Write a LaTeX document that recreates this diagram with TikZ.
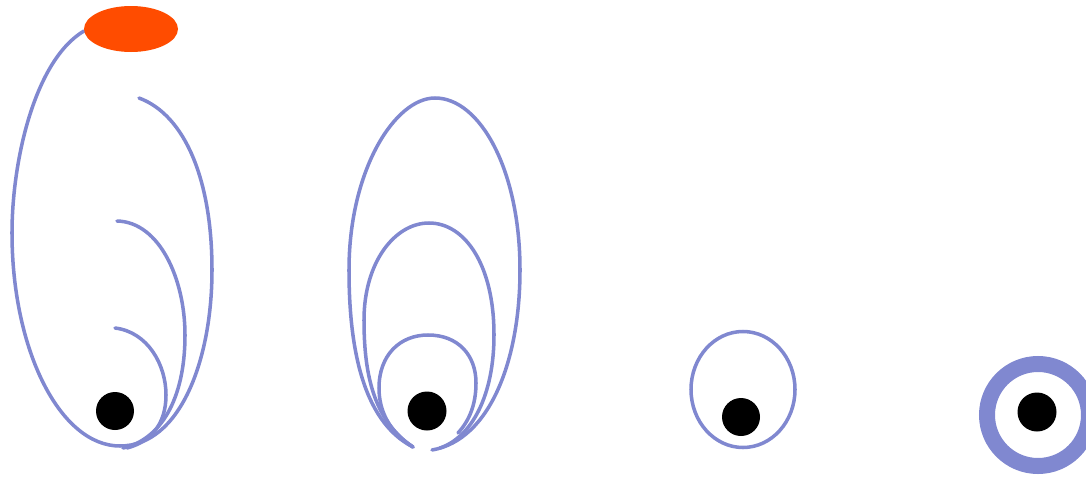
\documentclass[tikz,border=0pt]{standalone}
\definecolor{loopblue}{RGB}{128,136,208}
\definecolor{spot}{RGB}{255,76,0}
\begin{document}
\begin{tikzpicture}[x=0.02cm,y=-0.02cm,
  loopline/.style={draw=loopblue,line width=2pt,line cap=round},
  blackdot/.style={fill=black}]
\useasboundingbox (0,0) rectangle (1086,477);
\clip (0,0) rectangle (1086,477);
% ---- panel 1
\draw[loopline] (84,31) .. controls (35,60) and (12,160) .. (12,233)
  .. controls (12,350) and (60,446) .. (120,446)
  .. controls (180,446) and (212,360) .. (212,270)
  .. controls (212,180) and (185,115) .. (139,98);
\draw[loopline] (117,221) .. controls (160,222) and (185,280) .. (185,335)
  .. controls (185,400) and (160,440) .. (123,448);
\draw[loopline] (115,328) .. controls (148,332) and (166,365) .. (166,395)
  .. controls (166,425) and (150,442) .. (127,448);
\fill[spot] (131,29) ellipse [x radius=47, y radius=23];
\fill[blackdot] (115,411) circle [radius=19];
% ---- panel 2
\draw[loopline] (413,447) .. controls (360,420) and (349,340) .. (349,270)
  .. controls (349,170) and (395,98) .. (435,98)
  .. controls (480,98) and (520,170) .. (520,270)
  .. controls (520,360) and (490,440) .. (432,450);
\draw[loopline] (413,447) .. controls (372,420) and (364,370) .. (364,320)
  .. controls (364,262) and (395,223) .. (429,223)
  .. controls (465,223) and (494,265) .. (494,335)
  .. controls (494,395) and (472,437) .. (440,448);
\draw[loopline] (413,447) .. controls (390,432) and (379,412) .. (379,388)
  .. controls (379,355) and (400,335) .. (428,335)
  .. controls (458,335) and (476,355) .. (476,383)
  .. controls (476,405) and (469,421) .. (458,433);
\fill[blackdot] (427,411) circle [radius=19.5];
% ---- panel 3
\draw[loopline] (743,389.5) ellipse [x radius=52, y radius=58];
\fill[blackdot] (741,417) circle [radius=19];
% ---- panel 4
\draw[draw=loopblue,line width=0.32cm] (1038,415) circle [radius=51];
\fill[blackdot] (1037,412) circle [radius=19.5];
\end{tikzpicture}
\end{document}
